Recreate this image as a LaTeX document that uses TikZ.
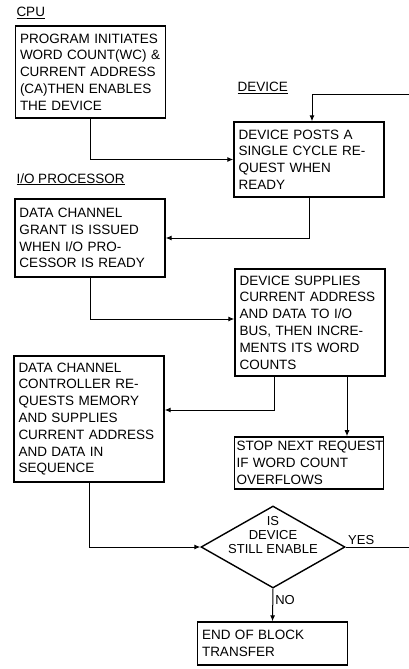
\documentclass[tikz,border=0pt]{standalone}
\usepackage{fontspec}
\setmainfont{Liberation Sans}
\usetikzlibrary{arrows.meta, positioning, shapes.geometric, calc}
\tikzset{
  every picture/.style={font=\fontsize{13.5}{16.8}\selectfont, line width=1pt},
  box/.style={draw, line width=1.4pt, text width=141pt, inner sep=4.5pt, align=left, minimum height=#1},
  box/.default=60pt,
  decision/.style={diamond, draw, line width=1.4pt, minimum width=144pt, minimum height=82pt, inner sep=0pt},
  arrow/.style={-{Latex[length=6pt,width=5pt]}, line width=1pt},
  heading/.style={anchor=base west, inner sep=0pt},
  tag/.style={font=\fontsize{13}{14}\selectfont, inner sep=2pt},
}
\begin{document}
\begin{tikzpicture}[x=1pt, y=-1pt]
  \useasboundingbox (0,0) rectangle (409,669);

  % section headings
  \node[heading] (cpulbl) at (16,17) {\underline{CPU}};
  \node[heading] (devlbl) at (237,92) {\underline{DEVICE}};
  \node[heading] (iolbl) at (16,183) {\underline{I/O PROCESSOR}};

  % steps
  \node[box=92pt] (cpu) at (90.5,72) {PROGRAM INITIATES\\WORD COUNT(WC) \&\\CURRENT ADDRESS\\(CA)THEN ENABLES\\THE DEVICE};
  \node[box=75pt] (dev) at (309,159.5) {DEVICE POSTS A\\SINGLE CYCLE RE-\\QUEST WHEN\\READY};
  \node[box=78pt] (io) at (90,238) {DATA CHANNEL\\GRANT IS ISSUED\\WHEN I/O PRO-\\CESSOR IS READY};
  \node[box=107pt] (sup) at (310,322.5) {DEVICE SUPPLIES\\CURRENT ADDRESS\\AND DATA TO I/O\\BUS, THEN INCRE-\\MENTS ITS WORD\\COUNTS};
  \node[box=126pt] (ctl) at (89,419) {DATA CHANNEL\\CONTROLLER RE-\\QUESTS MEMORY\\AND SUPPLIES\\CURRENT ADDRESS\\AND DATA IN\\SEQUENCE};
  \node[box=52pt, text width=145pt, inner xsep=2pt] (stop) at (309,463) {\mbox{STOP NEXT REQUEST}\\IF WORD COUNT\\OVERFLOWS};
  \node[decision, label={[tag, align=center, yshift=12pt]center:{IS\\DEVICE\\STILL ENABLE}}] (dia) at (273,547) {};
  \node[box=43pt] (end) at (272.5,643.5) {END OF BLOCK\\TRANSFER};

  % loop ends at the right edge
  \coordinate (loopin) at (409,94);
  \coordinate (yesend) at (409,547);

  % connectors
  \draw[arrow] (cpu.south) |- (dev.west);
  \draw[arrow] (loopin) -| ([xshift=3pt]dev.north);
  \draw[arrow] (dev.south) |- (io.east);
  \draw[arrow] (io.south) |- ([yshift=3.5pt]sup.west);
  \draw[arrow] ([xshift=-36pt]sup.south) |- ([yshift=9pt]ctl.east);
  \draw[arrow] ([xshift=37pt]sup.south) -- ([xshift=38pt]stop.north);
  \draw[arrow] (ctl.south) |- (dia.west);
  \draw (dia.east) -- node[tag, pos=0, above right] (yes) {YES} (yesend);
  \draw[arrow] (dia.south) -- node[tag, pos=0.35, right] (no) {NO} (end.north);
\end{tikzpicture}
\end{document}
